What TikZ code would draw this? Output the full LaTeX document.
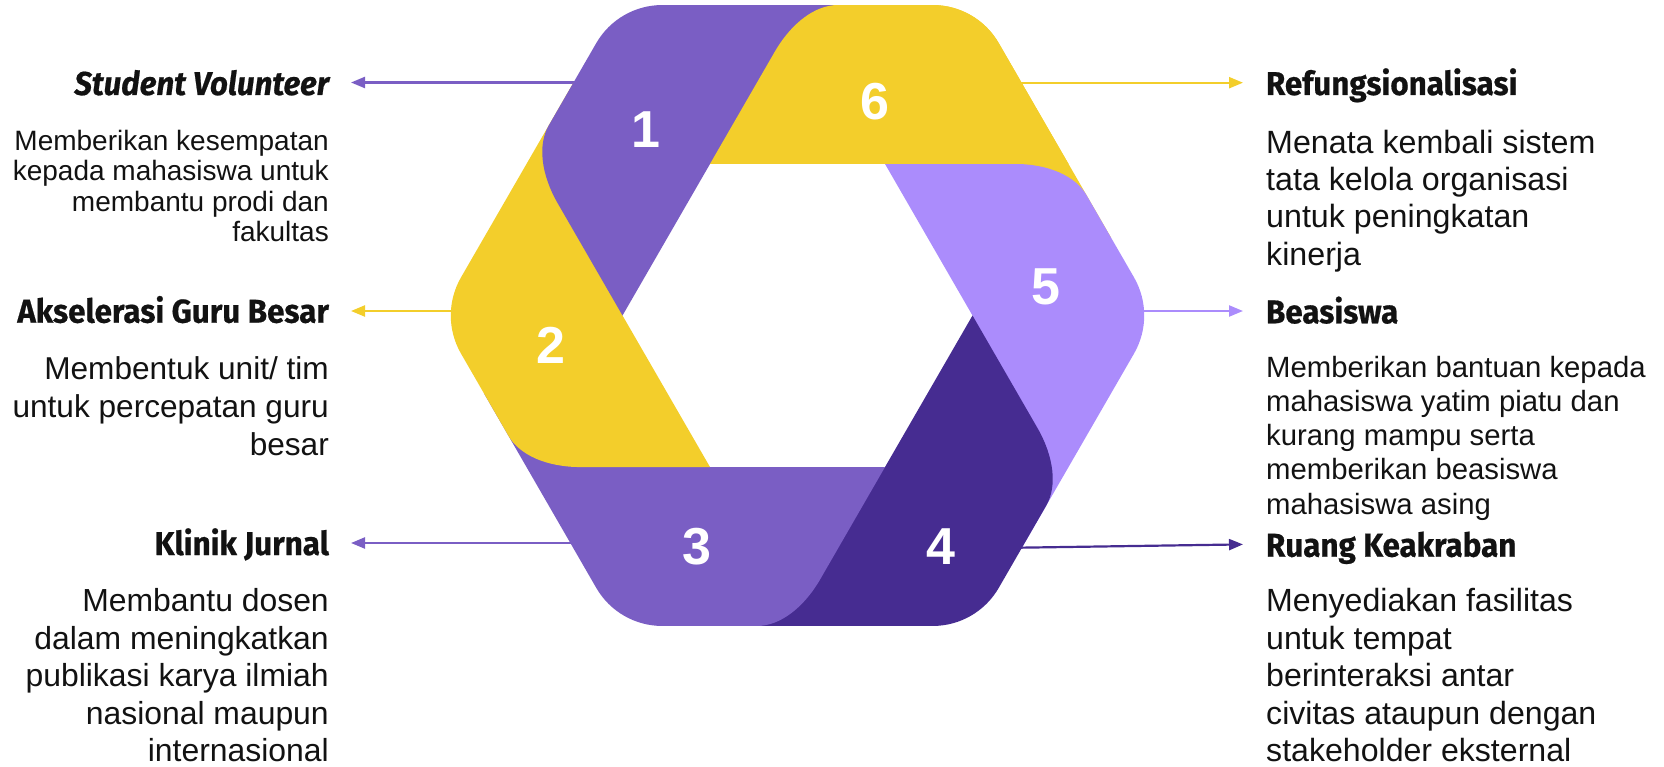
\documentclass[tikz,border=0pt]{standalone}
\usepackage{fontspec}
\setmainfont{Liberation Sans}
\newfontfamily\headfont[FakeStretch=0.95,FakeBold=0.6]{Fira Sans}
\usetikzlibrary{arrows.meta}
\definecolor{segpurple}{RGB}{122,94,196}
\definecolor{segyellow}{RGB}{243,206,43}
\definecolor{seglav}{RGB}{171,140,252}
\definecolor{segdark}{RGB}{70,44,145}
\definecolor{ink}{RGB}{18,18,18}
% one ribbon piece (top one), centre at origin, y up; with hidden tail
\def\SegFull{(-87.5,151.55) -- (-22.75,263.71) .. controls (-6.01,292.70) and (17.93,310.47) .. (40.25,310.47) -- (135.25,310.47) .. controls (162.49,310.47) and (187.63,295.96) .. (201.25,272.37) -- (313.7,77.6) -- (87.5,151.55) -- cycle}
% same piece without the hidden tail
\def\SegTrap{(-87.5,151.55) -- (-22.75,263.71) .. controls (-6.01,292.70) and (17.93,310.47) .. (40.25,310.47) -- (135.25,310.47) .. controls (162.49,310.47) and (187.63,295.96) .. (201.25,272.37) -- (271.0,151.55) -- cycle}
\begin{document}
\begin{tikzpicture}[x=1pt,y=-1pt,
  head/.style={font=\headfont\bfseries\fontsize{33}{36}\selectfont, text=ink, inner sep=0pt},
  bodyL/.style={align=right, text=ink, inner sep=0pt, anchor=base east},
  bodyR/.style={align=left, text=ink, inner sep=0pt, anchor=base west},
  num/.style={font=\bfseries\fontsize{52}{52}\selectfont, text=white, inner sep=0pt},
  link/.style={line width=2.2pt, -{Triangle[length=14pt,width=11pt]}}]
\useasboundingbox (0,0) rectangle (1664,767);

% headings
\node[head, anchor=base east, outer xsep=22pt] (h1) at (351,95) {\itshape Student Volunteer};
\node[head, anchor=base east, outer xsep=22pt] (h2) at (351,322.7) {Akselerasi Guru Besar};
\node[head, anchor=base east, outer xsep=22pt] (h3) at (351,555) {Klinik Jurnal};
\node[head, anchor=base west, outer xsep=23pt] (h6) at (1243,95) {Refungsionalisasi};
\node[head, anchor=base west, outer xsep=23pt] (h5) at (1243,323.3) {Beasiswa};
\node[head, anchor=base west, outer xsep=23pt] (h4) at (1243,556.7) {Ruang Keakraban};

% bodies (anchored at the baseline of their last line)
\node[bodyL, font=\fontsize{28}{30.5}\selectfont] (b1) at (329,241.6)
  {Memberikan kesempatan\\kepada mahasiswa untuk\\membantu prodi dan\\fakultas};
\node[bodyL, font=\fontsize{31.6}{38}\selectfont] (b2) at (329,455.2)
  {Membentuk unit/ tim\\untuk percepatan guru\\besar};
\node[bodyL, font=\fontsize{31.9}{37.5}\selectfont] (b3) at (329,761.7)
  {Membantu dosen\\dalam meningkatkan\\publikasi karya ilmiah\\nasional maupun\\internasional};
\node[bodyR, font=\fontsize{32.2}{37.3}\selectfont] (b6) at (1266,265.2)
  {Menata kembali sistem\\tata kelola organisasi\\untuk peningkatan\\kinerja};
\node[bodyR, font=\fontsize{29.3}{34.2}\selectfont] (b5) at (1266,514.1)
  {Memberikan bantuan kepada\\mahasiswa yatim piatu dan\\kurang mampu serta\\memberikan beasiswa\\mahasiswa asing};
\node[bodyR, font=\fontsize{32.1}{37.5}\selectfont] (b4) at (1266,761.7)
  {Menyediakan fasilitas\\untuk tempat\\berinteraksi antar\\civitas ataupun dengan\\stakeholder eksternal};

% connectors (start hidden under the ring)
\coordinate (s1) at (590,82.5);
\coordinate (s2) at (475,311);
\coordinate (s3) at (590,543);
\coordinate (s6) at (1000,82.7);
\coordinate (s5) at (1125,311);
\coordinate (s4) at (1005,547.9);
\coordinate (t4) at (1243,544.4);
\draw[link, segpurple] (s1) -- (s1 -| h1.east);
\draw[link, segyellow] (s2) -- (s2 -| h2.east);
\draw[link, segpurple] (s3) -- (s3 -| h3.east);
\draw[link, segyellow] (s6) -- (s6 -| h6.west);
\draw[link, seglav]    (s5) -- (s5 -| h5.west);
\draw[link, segdark]   (s4) -- (t4);

% ring (positive angles turn clockwise on the page here)
\begin{scope}[shift={(797.5,315.5)}, yscale=-1]
  \fill[segyellow] \SegFull;
  \fill[seglav, rotate=60] \SegFull;
  \fill[segdark, rotate=120] \SegFull;
  \fill[segpurple, rotate=180] \SegFull;
  \fill[segyellow, rotate=240] \SegFull;
  \fill[segpurple, rotate=300] \SegFull;
  \fill[segyellow] \SegTrap;
\end{scope}

% numbers
\node[num] (n1) at (646,130) {1};
\node[num] (n2) at (551,345) {2};
\node[num] (n3) at (696.7,546.7) {3};
\node[num] (n4) at (941,546.7) {4};
\node[num] (n5) at (1045.7,286.7) {5};
\node[num] (n6) at (875,101.7) {6};
\end{tikzpicture}
\end{document}
